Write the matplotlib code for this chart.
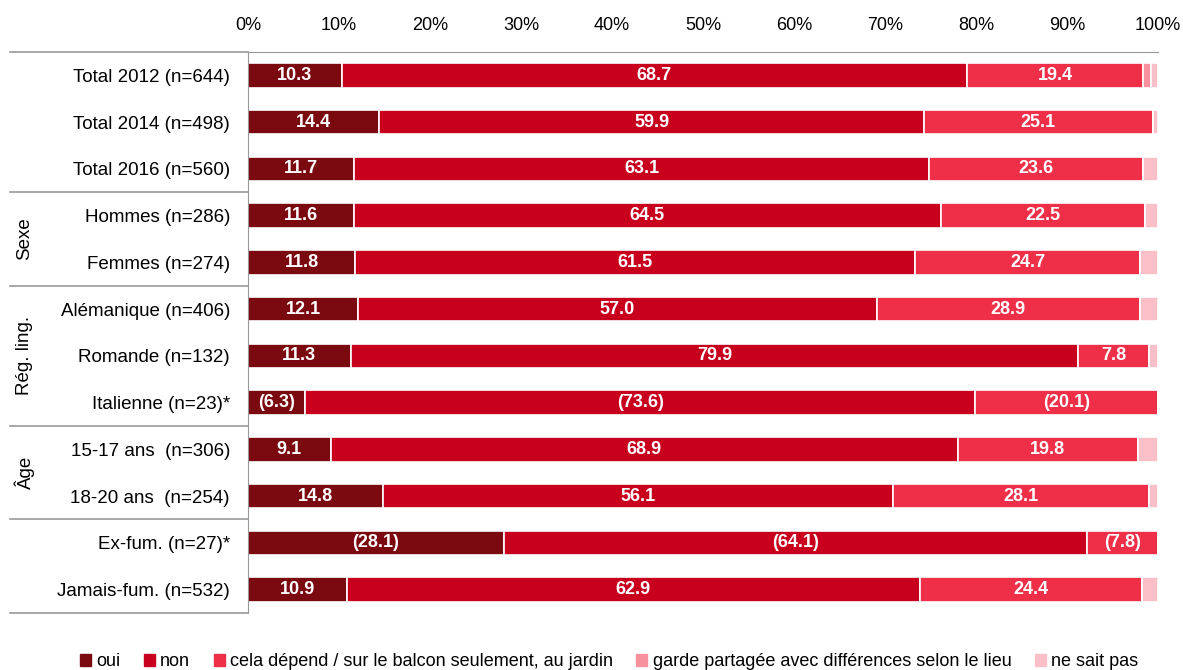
import numpy as np
import matplotlib.pyplot as plt
from matplotlib.lines import Line2D

plt.rcParams['font.family'] = ['Liberation Sans Narrow', 'Liberation Sans', 'DejaVu Sans']

rows = ["Total 2012 (n=644)", "Total 2014 (n=498)", "Total 2016 (n=560)",
        "Hommes (n=286)", "Femmes (n=274)",
        "Alémanique (n=406)", "Romande (n=132)", "Italienne (n=23)*",
        "15-17 ans  (n=306)", "18-20 ans  (n=254)",
        "Ex-fum. (n=27)*", "Jamais-fum. (n=532)"]

oui = [10.3, 14.4, 11.7, 11.6, 11.8, 12.1, 11.3, 6.3, 9.1, 14.8, 28.1, 10.9]
non = [68.7, 59.9, 63.1, 64.5, 61.5, 57.0, 79.9, 73.6, 68.9, 56.1, 64.1, 62.9]
depend = [19.4, 25.1, 23.6, 22.5, 24.7, 28.9, 7.8, 20.1, 19.8, 28.1, 7.8, 24.4]
garde = [0.8, 0, 0, 0, 0, 0, 0, 0, 0, 0, 0, 0]
nsp = [0.8, 0.6, 1.6, 1.4, 2.0, 2.0, 1.0, 0, 2.2, 1.0, 0, 1.8]

# rows shown in brackets (small n)
small_n = [False] * 7 + [True] + [False] * 2 + [True, False]

series = [oui, non, depend, garde, nsp]
names = ["oui", "non", "cela dépend / sur le balcon seulement, au jardin",
         "garde partagée avec différences selon le lieu", "ne sait pas"]
colors = ["#7a0a10", "#c8001e", "#ef2f48", "#f6919d", "#fbc0c7"]

groups = [("Sexe", 3, 4), ("Rég. ling.", 5, 7), ("Âge", 8, 9)]
separators = [-0.5, 2.5, 4.5, 7.5, 9.5, 11.5]

fig = plt.figure(figsize=(11.83, 6.7), dpi=100)
ax = fig.add_axes([0.2096, 0.0851, 0.7693, 0.8373])

y = np.arange(len(rows))
left = np.zeros(len(rows))
for k, (vals, c) in enumerate(zip(series, colors)):
    vals = np.array(vals)
    ax.barh(y, vals, left=left, height=0.52, color=c, edgecolor='white', linewidth=1.2)
    if k < 3:
        for i, v in enumerate(vals):
            txt = f"({v:.1f})" if small_n[i] else f"{v:.1f}"
            ax.text(left[i] + v / 2, y[i], txt, ha='center', va='center',
                    color='white', fontsize=13, fontweight='bold')
    left += vals

ax.set_xlim(0, 100)
ax.set_ylim(len(rows) - 0.5, -0.5)
ax.set_xticks(np.arange(0, 101, 10))
ax.set_xticklabels([f"{t}%" for t in range(0, 101, 10)], fontsize=13)
ax.xaxis.tick_top()
ax.tick_params(axis='x', length=0, pad=13)
ax.set_yticks(y)
ax.set_yticklabels(rows, fontsize=13.5)
ax.tick_params(axis='y', length=0, pad=13)

for s in ['right', 'bottom']:
    ax.spines[s].set_visible(False)
ax.spines['top'].set_color('#999999')
ax.spines['left'].set_color('#999999')

# group separator lines in the label area
for s in separators:
    ax.add_line(Line2D([-0.262, 0], [s, s], transform=ax.get_yaxis_transform(),
                       color='#999999', linewidth=1.2, clip_on=False))

for name, a, b in groups:
    ax.text(-0.245, (a + b) / 2, name, transform=ax.get_yaxis_transform(),
            rotation=90, ha='center', va='center', fontsize=13.5)

handles = [plt.Rectangle((0, 0), 1, 1, color=c) for c in colors]
fig.legend(handles, names, loc='lower center', ncol=5, frameon=False,
           fontsize=13, handlelength=0.6, handleheight=0.6, handletextpad=0.3,
           columnspacing=1.3, bbox_to_anchor=(0.515, -0.025))

fig.savefig("out.png", dpi=100)
